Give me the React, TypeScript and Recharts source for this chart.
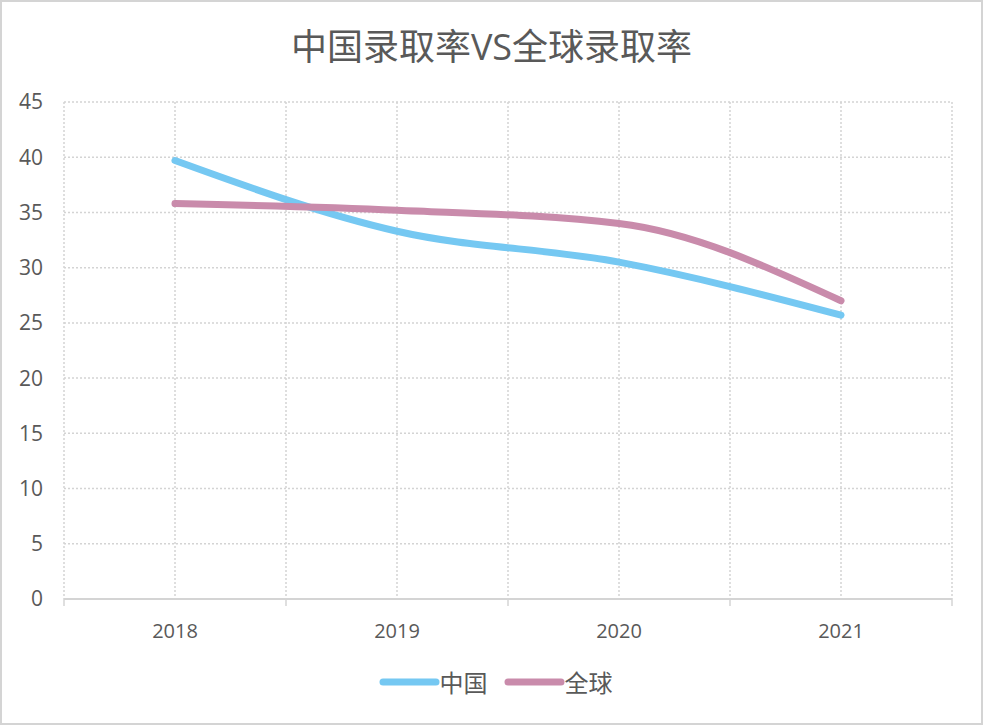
import React from "react";
import {
  CartesianGrid,
  Legend,
  Line,
  LineChart,
  XAxis,
  YAxis
} from "recharts";

const years = ["2018", "2019", "2020", "2021"];
const china = [39.7, 33.3, 30.5, 25.7];
const global = [35.8, 35.2, 34.0, 27.0];
const yTicks = [0, 5, 10, 15, 20, 25, 30, 35, 40, 45];
// grid lines at every category and every category boundary
const xTicks = [-0.5, 0, 0.5, 1, 1.5, 2, 2.5, 3, 3.5];

const seriesNames = { china: "中国", global: "全球" };
const colors = { china: "#75C8F2", global: "#C98BAB" };

const data = years.map((year, i) => ({
  x: i,
  year,
  china: china[i],
  global: global[i]
}));

const font = "'Open Sans', 'Noto Sans CJK SC', sans-serif";
const textColor = "#595959";
const gridColor = "#d4d4d4";

function XTick(props: any) {
  const { x, y, payload } = props;
  const v = payload.value as number;
  if (Number.isInteger(v)) {
    return (
      <text x={x} y={y + 31} textAnchor="middle" fill={textColor} fontSize={20} fontFamily={font}>
        {years[v]}
      </text>
    );
  }
  return <line x1={x} x2={x} y1={y - 8} y2={y - 1} stroke={gridColor} strokeWidth={1.5} />;
}

function LegendContent() {
  const items: ("china" | "global")[] = ["china", "global"];
  return (
    <div style={{ display: "flex", justifyContent: "center", alignItems: "center", gap: 16 }}>
      {items.map((k) => (
        <div key={k} style={{ display: "flex", alignItems: "center" }}>
          <svg width={61} height={10}>
            <line x1={4} x2={57} y1={5} y2={5} stroke={colors[k]} strokeWidth={7} strokeLinecap="round" />
          </svg>
          <span style={{ fontSize: 24, color: textColor, fontFamily: font }}>{seriesNames[k]}</span>
        </div>
      ))}
    </div>
  );
}

export default function App() {
  return (
    <div
      style={{
        position: "fixed",
        top: 0,
        left: 0,
        width: 983,
        height: 725,
        boxSizing: "border-box",
        border: `2px solid ${gridColor}`,
        background: "#fff"
      }}
    >
      <div
        style={{
          position: "absolute",
          top: 16,
          width: "100%",
          textAlign: "center",
          fontSize: 36,
          color: textColor,
          fontFamily: font
        }}
      >
        中国录取率VS全球录取率
      </div>
      <LineChart
        width={979}
        height={721}
        data={data}
        margin={{ top: 100, right: 29, bottom: 49, left: 0 }}
        style={{ position: "absolute", top: 0, left: 0 }}
      >
        <CartesianGrid stroke={gridColor} strokeWidth={1.5} strokeDasharray="2 2" ticks={xTicks} />
        <XAxis
          dataKey="x"
          type="number"
          domain={[-0.5, 3.5]}
          ticks={xTicks}
          interval={0}
          height={40}
          tick={<XTick />}
          tickLine={false}
          axisLine={{ stroke: gridColor, strokeWidth: 2 }}
        />
        <YAxis
          domain={[0, 45]}
          ticks={yTicks}
          interval={0}
          width={62}
          axisLine={false}
          tickLine={false}
          tickMargin={15}
          tick={{ fill: textColor, fontSize: 21, fontFamily: font }}
        />
        <Legend
          verticalAlign="bottom"
          wrapperStyle={{ bottom: 24, left: 0, width: 979, paddingLeft: 8, boxSizing: "border-box" }}
          content={<LegendContent />}
        />
        <Line
          type="monotone"
          dataKey="china"
          name={seriesNames.china}
          stroke={colors.china}
          strokeWidth={7}
          strokeLinecap="round"
          dot={false}
          isAnimationActive={false}
        />
        <Line
          type="monotone"
          dataKey="global"
          name={seriesNames.global}
          stroke={colors.global}
          strokeWidth={7}
          strokeLinecap="round"
          dot={false}
          isAnimationActive={false}
        />
      </LineChart>
    </div>
  );
}
